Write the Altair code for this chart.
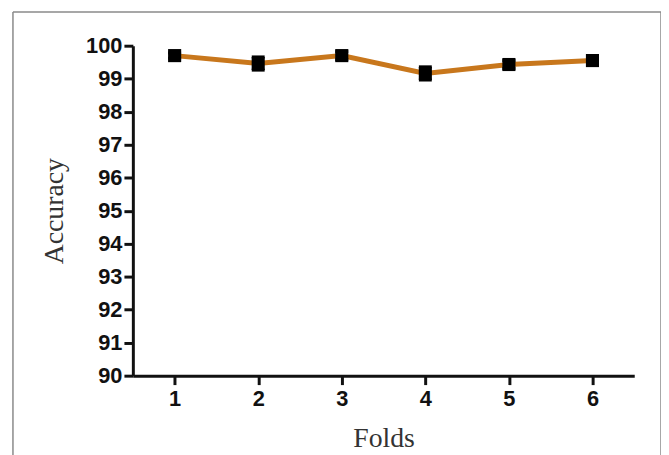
import altair as alt
import pandas as pd

folds = [1, 2, 3, 4, 5, 6]
accuracy = [99.70, 99.46, 99.70, 99.16, 99.43, 99.55]
errors = [0.08, 0.20, 0.12, 0.20, 0.12, 0.08]
y_ticks = [90, 91, 92, 93, 94, 95, 96, 97, 98, 99, 100]

df = pd.DataFrame({"fold": folds, "acc": accuracy, "err": errors})
df["lo"] = df["acc"] - df["err"]
df["hi"] = df["acc"] + df["err"]

xs = alt.Scale(domain=[0.5, 6.5], nice=False, zero=False)
ys = alt.Scale(domain=[90, 100], nice=False, zero=False)

xaxis = alt.Axis(values=folds, format="d", labelOverlap=False, title="Folds", grid=False,
                 labelFont="Liberation Sans", labelFontWeight="bold", labelFontSize=22,
                 labelColor="#111", tickSize=9, tickWidth=3, tickColor="#111",
                 domainWidth=3, domainColor="#111", labelPadding=4,
                 titleFont="Liberation Serif", titleFontSize=28, titleFontWeight="normal",
                 titleColor="#333", titlePadding=15)
yaxis = alt.Axis(values=y_ticks, tickCount=11, format="d", labelOverlap=False, title="Accuracy",
                 grid=False, labelFont="Liberation Sans", labelFontWeight="bold", labelFontSize=22,
                 labelColor="#111", tickSize=9, tickWidth=3, tickColor="#111",
                 domainWidth=3, domainColor="#111", labelPadding=2,
                 titleFont="Liberation Serif", titleFontSize=28, titleFontWeight="normal",
                 titleColor="#333", titlePadding=17)

X = alt.X("fold:Q", scale=xs, axis=xaxis)

line = alt.Chart(df).mark_line(color="#C8771C", strokeWidth=5).encode(
    x=X, y=alt.Y("acc:Q", scale=ys, axis=yaxis))
err = alt.Chart(df).mark_rule(color="black", strokeWidth=3).encode(
    x=X, y=alt.Y("lo:Q", scale=ys, axis=yaxis), y2="hi:Q")
cap_lo = alt.Chart(df).mark_tick(color="black", thickness=3, size=13, orient="horizontal",
                                 opacity=1).encode(
    x=X, y=alt.Y("lo:Q", scale=ys, axis=yaxis))
cap_hi = alt.Chart(df).mark_tick(color="black", thickness=3, size=13, orient="horizontal",
                                 opacity=1).encode(
    x=X, y=alt.Y("hi:Q", scale=ys, axis=yaxis))
pts = alt.Chart(df).mark_square(color="black", size=175, opacity=1).encode(
    x=X, y=alt.Y("acc:Q", scale=ys, axis=yaxis))

frame_top = alt.Chart(df.head(1)).mark_rule(color="#8a8a8a", strokeWidth=1.5).encode(
    x=alt.value(-121), x2=alt.value(533), y=alt.value(-34))
frame_left = alt.Chart(df.head(1)).mark_rule(color="#8a8a8a", strokeWidth=1.5).encode(
    x=alt.value(-121), y=alt.value(-34), y2=alt.value(440))
frame_right = alt.Chart(df.head(1)).mark_rule(color="#8a8a8a", strokeWidth=1.5).encode(
    x=alt.value(533), y=alt.value(-34), y2=alt.value(440))

chart = alt.layer(frame_top, frame_left, frame_right, line, err, cap_lo, cap_hi, pts).properties(
    width=506, height=333,
    autosize=alt.AutoSizeParams(type="none"),
    padding={"left": 126, "top": 36, "right": 27, "bottom": 78},
    view=alt.ViewBackground(stroke="transparent", strokeWidth=0),
).configure_view(strokeWidth=0, stroke="transparent").configure(background="white")

chart.save("out.html", embed_options={"renderer": "svg", "actions": False})
